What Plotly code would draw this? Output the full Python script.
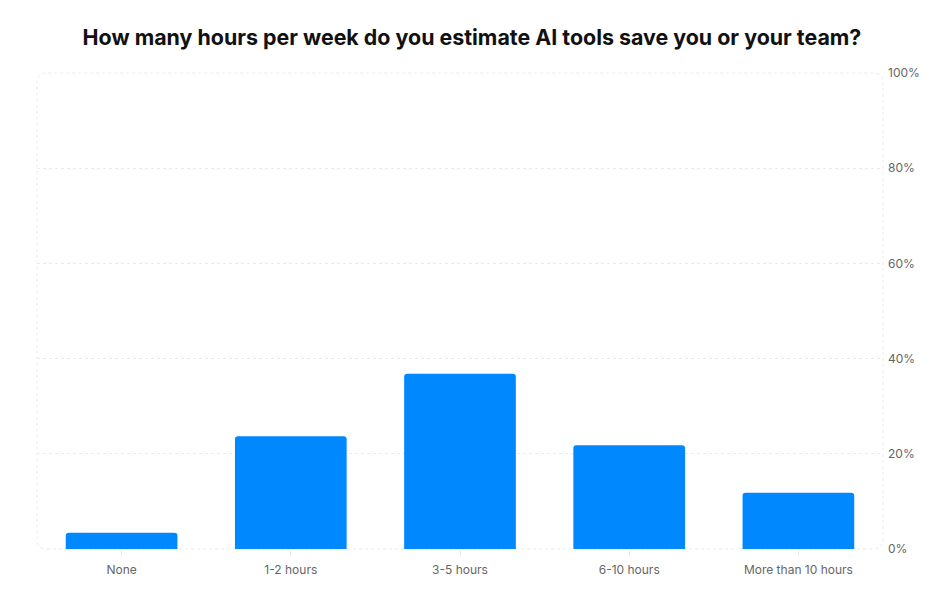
import plotly.graph_objects as go

categories = ["None", "1-2 hours", "3-5 hours", "6-10 hours", "More than 10 hours"]
shares = [3.4, 23.7, 36.8, 21.8, 11.8]
y_ticks = [0, 20, 40, 60, 80, 100]
y_tick_labels = ["0%", "20%", "40%", "60%", "80%", "100%"]

title_text = "How many hours per week do you estimate AI tools save you or your team?"

fig = go.Figure(go.Bar(
    x=categories,
    y=shares,
    marker=dict(color="#0088FF", line=dict(width=0)),
    hovertemplate="%{x}: %{y:.1f}%<extra></extra>",
))

# rounded dashed frame round the plot area (paper coords)
rx, ry = 0.012, 0.02
frame = (f"M {rx},0 L {1 - rx},0 Q 1,0 1,{ry} L 1,{1 - ry} Q 1,1 {1 - rx},1 "
         f"L {rx},1 Q 0,1 0,{1 - ry} L 0,{ry} Q 0,0 {rx},0 Z")

grid_col = "#EBEBEB"

fig.update_layout(
    width=944,
    height=600,
    margin=dict(l=29, r=69, t=65, b=59),
    paper_bgcolor="white",
    plot_bgcolor="white",
    font=dict(family="Inter, Roboto, sans-serif", color="#666666", size=12),
    title=dict(text=f"<b>{title_text}</b>", x=0.4915, xanchor="center", y=0.95, yanchor="middle",
               font=dict(size=21.4, color="#111111")),
    bargap=0.34,
    barcornerradius=3,
    showlegend=False,
    shapes=[dict(type="path", path=frame, xref="paper", yref="paper",
                 line=dict(color=grid_col, width=1, dash="3px,3px"), layer="below")],
)

fig.update_xaxes(
    showgrid=False,
    showline=False,
    zeroline=False,
    ticks="outside",
    ticklen=6,
    tickcolor=grid_col,
    ticklabelstandoff=4,
    tickfont=dict(size=12, color="#666666"),
)

fig.update_yaxes(
    side="right",
    range=[0, 100],
    tickvals=y_ticks,
    ticktext=y_tick_labels,
    showgrid=True,
    gridcolor=grid_col,
    griddash="3px,3px",
    gridwidth=1,
    zeroline=False,
    showline=False,
    ticks="",
    ticklabelstandoff=4,
    tickfont=dict(size=12, color="#666666"),
)

fig.write_html("out.html")
